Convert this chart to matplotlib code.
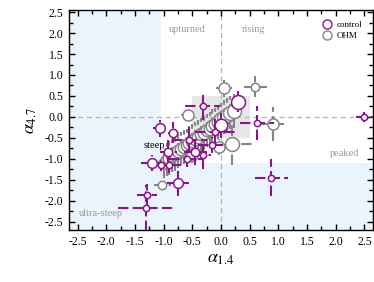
import matplotlib
matplotlib.use("Agg")
import matplotlib.pyplot as plt
from matplotlib.lines import Line2D
from matplotlib.patches import Rectangle
from matplotlib.ticker import MultipleLocator

plt.rcParams['font.family'] = ['Liberation Serif', 'DejaVu Serif']
plt.rcParams['mathtext.fontset'] = 'stix'

# control sample: alpha_1.4, alpha_4.7, errors, marker size (pt)
ctrl_x = [2.5, 0.88, 0.63, 0.30, -0.32, 0.0, -0.15, -0.32, -1.07, -0.83,
          -1.2, -0.92, -0.9, -0.75, -1.31, -1.29, -0.6, -0.45, -1.05, -0.55, -0.1]
ctrl_y = [0.0, -1.45, -0.15, 0.36, 0.27, -0.2, -0.67, -0.9, -0.27, -0.38,
          -1.1, -0.85, -1.15, -1.58, -2.17, -1.86, -1.0, -0.85, -1.15, -0.55, -0.35]
ctrl_xerr = [0.15, 0.28, 0.3, 0.1, 0.3, 0.1, 0.25, 0.15, 0.12, 0.1,
             0.2, 0.15, 0.2, 0.2, 0.48, 0.17, 0.3, 0.2, 0.15, 0.3, 0.35]
ctrl_yerr = [0.12, 0.45, 0.4, 0.25, 0.35, 0.3, 0.2, 0.35, 0.2, 0.25,
             0.2, 0.3, 0.2, 0.3, 0.55, 0.25, 0.2, 0.3, 0.15, 0.3, 0.3]
ctrl_size = [4.5, 4.5, 4.5, 10, 4.5, 9, 4.5, 4.5, 7, 6, 7, 6, 4.5, 7, 4.5, 4.5, 4.5, 6, 4.5, 4.5, 4.5]

# OHM sample
ohm_x = [0.06, 0.6, -0.57, 0.9, 0.2, -0.03, -1.02, -0.72, -0.5,
         -1.0, -0.95, -0.9, -0.85, -0.8, -0.75, -0.7, -0.65, -0.6, -0.55,
         -0.5, -0.45, -0.4, -0.35, -0.3, -0.25, -0.2, -0.15, -0.1, -0.05,
         0.0, 0.05, 0.1, 0.15, 0.22]
ohm_y = [0.68, 0.72, 0.05, -0.17, -0.64, -0.72, -1.62, -0.84, -0.9,
         -1.1, -1.02, -0.98, -0.92, -0.88, -0.82, -0.76, -0.72, -0.68, -0.62,
         -0.58, -0.52, -0.48, -0.42, -0.38, -0.32, -0.28, -0.22, -0.18, -0.12,
         -0.06, 0.0, 0.05, 0.1, 0.14]
ohm_xerr = [0.14, 0.2, 0.12, 0.2, 0.35, 0.1, 0.15, 0.1, 0.1,
            0.08, 0.08, 0.08, 0.08, 0.08, 0.08, 0.08, 0.08, 0.08, 0.08,
            0.08, 0.08, 0.08, 0.08, 0.08, 0.08, 0.08, 0.08, 0.08, 0.08,
            0.08, 0.08, 0.08, 0.1, 0.1]
ohm_yerr = [0.2, 0.25, 0.15, 0.4, 0.5, 0.2, 0.1, 0.2, 0.2,
            0.35, 0.4, 0.4, 0.4, 0.4, 0.4, 0.4, 0.4, 0.4, 0.4,
            0.4, 0.4, 0.4, 0.4, 0.4, 0.4, 0.4, 0.4, 0.4, 0.4,
            0.4, 0.4, 0.4, 0.4, 0.4]
ohm_size = [8, 6, 8, 8, 10, 8, 6, 8, 8,
            8, 9, 9, 9, 9, 9, 9, 9, 9, 9,
            9, 9, 9, 9, 9, 9, 9, 9, 9, 9,
            10, 10, 10, 10, 10]

purple = '#8b138b'
grey = '#858585'

fig = plt.figure(figsize=(3.74, 2.82), dpi=100)
ax = fig.add_axes([0.1845, 0.1844, 0.8128, 0.78])
ax.set_xlim(-2.65, 2.65)
ax.set_ylim(-2.7, 2.55)

# classification regions
blue = '#eaf4fc'
ax.add_patch(Rectangle((-2.65, -2.7), 1.6, 5.25, color=blue, lw=0, zorder=0))
ax.add_patch(Rectangle((-1.05, -2.7), 3.7, 1.6, color=blue, lw=0, zorder=0))
ax.add_patch(Rectangle((-0.5, -0.5), 1.0, 1.0, color='#e6e6e6', lw=0, zorder=0))
ax.axhline(0, color='#b4b4b4', ls=(0, (4, 3)), lw=0.9, zorder=1)
ax.axvline(0, color='#b4b4b4', ls=(0, (4, 3)), lw=0.9, zorder=1)


def draw(xs, ys, xe, ye, sz, col, z):
    for x, y, dx, dy, s in zip(xs, ys, xe, ye, sz):
        m, caps, bars = ax.errorbar(x, y, xerr=dx, yerr=dy, fmt='o', ms=s,
                                    mfc='white', mec=col, mew=1.1, ecolor=col,
                                    elinewidth=1.5, capsize=0, zorder=z)
        for b in bars:
            b.set_linestyle((0, (5, 2)))
            b.set_zorder(z)
        m.set_zorder(z + 0.5)


draw(ohm_x, ohm_y, ohm_xerr, ohm_yerr, ohm_size, grey, 2)
draw(ctrl_x, ctrl_y, ctrl_xerr, ctrl_yerr, ctrl_size, purple, 3)

lab = dict(fontsize=7.5, color='#9a9a9a', ha='center', va='center')
ax.text(-0.58, 2.08, 'upturned', **lab)
ax.text(0.57, 2.08, 'rising', **lab)
ax.text(2.15, -0.87, 'peaked', **lab)
ax.text(-2.1, -2.31, 'ultra-steep', **lab)
ax.text(-1.16, -0.68, 'steep', fontsize=7.5, color='black', ha='center', va='center', zorder=5)

handles = [Line2D([], [], ls='none', marker='o', ms=6.5, mfc='white', mec=purple, mew=1.0),
           Line2D([], [], ls='none', marker='o', ms=6.5, mfc='white', mec=grey, mew=1.0)]
ax.legend(handles, ['control', 'OHM'], loc='upper right', frameon=False,
          fontsize=6.5, handletextpad=0.5, labelspacing=0.25, borderaxespad=0.8,
          handlelength=1.2)

ax.xaxis.set_major_locator(MultipleLocator(0.5))
ax.yaxis.set_major_locator(MultipleLocator(0.5))
ax.xaxis.set_minor_locator(MultipleLocator(0.25))
ax.yaxis.set_minor_locator(MultipleLocator(0.25))
ax.tick_params(which='both', direction='in', top=True, right=True, labelsize=8.5, pad=4)
ax.tick_params(which='major', length=4, width=1)
ax.tick_params(which='minor', length=3, width=1)
ax.xaxis.set_major_formatter(lambda v, p: f'{v:.1f}'.replace('-0.0', '0.0'))
ax.yaxis.set_major_formatter(lambda v, p: f'{v:.1f}'.replace('-0.0', '0.0'))
for s in ax.spines.values():
    s.set_linewidth(1.0)

ax.set_xlabel(r'$\alpha_{1.4}$', fontsize=13, labelpad=2)
ax.set_ylabel(r'$\alpha_{4.7}$', fontsize=13, labelpad=4)

fig.savefig('out.png', dpi=100)
